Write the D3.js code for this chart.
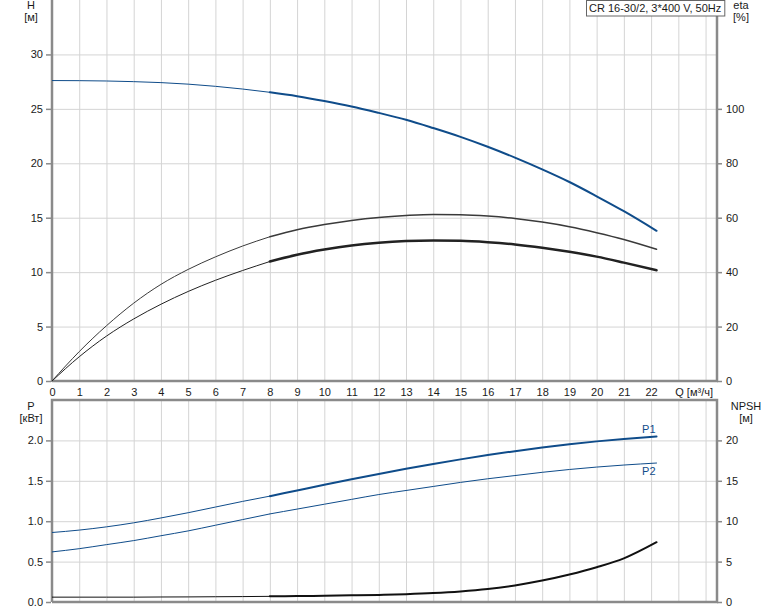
<!DOCTYPE html>
<html><head><meta charset="utf-8">
<script src="https://cdn.jsdelivr.net/npm/d3@7"></script>
<style>
body{margin:0;background:#fff;}
svg{display:block;font-family:"Liberation Sans",Arial,sans-serif;}
</style></head>
<body><svg id="c" width="774" height="611"></svg>
<script>
// ---- data ----
const qPoints = [0,1,2,3,4,5,6,7,8,9,10,11,12,13,14,15,16,17,18,19,20,21,22.2];
const headH   = [27.6,27.59,27.56,27.5,27.41,27.27,27.07,26.82,26.52,26.16,25.72,25.22,24.63,24.0,23.24,22.43,21.52,20.52,19.44,18.28,16.97,15.6,13.8];
const etaPump = [0,10.8,20.3,28.6,35.5,41.0,45.6,49.6,53.0,55.6,57.5,59.0,60.1,60.8,61.2,61.1,60.6,59.7,58.4,56.7,54.5,52.0,48.4];
const etaTotal= [0,8.9,16.5,22.8,28.2,32.9,37.0,40.6,43.9,46.4,48.3,49.8,50.8,51.4,51.6,51.5,51.0,50.2,49.0,47.5,45.7,43.5,40.7];
const powerP1 = [0.86,0.89,0.93,0.98,1.04,1.105,1.175,1.245,1.31,1.38,1.45,1.518,1.584,1.648,1.708,1.765,1.818,1.867,1.912,1.952,1.988,2.018,2.048];
const powerP2 = [0.62,0.66,0.71,0.76,0.82,0.88,0.95,1.02,1.09,1.15,1.21,1.27,1.33,1.38,1.43,1.48,1.525,1.565,1.605,1.64,1.67,1.695,1.72];
const npsh    = [0.6,0.6,0.6,0.6,0.62,0.63,0.65,0.67,0.7,0.73,0.77,0.82,0.88,0.97,1.1,1.3,1.6,2.05,2.65,3.4,4.3,5.4,7.4];
const opStartQ = 8;
const qTicks = [0,1,2,3,4,5,6,7,8,9,10,11,12,13,14,15,16,17,18,19,20,21,22];
const qGrid = [1,2,3,4,5,6,7,8,9,10,11,12,13,14,15,16,17,18,19,20,21,22,23,24];
const hTicks = [0,5,10,15,20,25,30];
const etaTicks = [0,20,40,60,80,100];
const pTicks = [0,0.5,1.0,1.5,2.0];
const npshTicks = [0,5,10,15,20];
const titleText = "CR 16-30/2, 3*400 V, 50Hz";

// ---- layout ----
const L = 52, R = 717;
const topT = 0, topB = 381, botT = 400, botB = 602;
const svg = d3.select("#c");
const x = d3.scaleLinear().domain([0,24.42]).range([L,R]);
const yH = d3.scaleLinear().domain([0,35]).range([topB,topT]);
const yEta = d3.scaleLinear().domain([0,140]).range([topB,topT]);
const yP = d3.scaleLinear().domain([0,2.5]).range([botB,botT]);
const yN = d3.scaleLinear().domain([0,25]).range([botB,botT]);

const gridCol = "#d4d4d4", axisCol = "#8a8a8a", txtCol = "#1a1a1a";
const blue = "#0f4c8a";

function grid(yScale, yTicks, top, bottom){
  const g = svg.append("g");
  g.append("g").attr("transform",`translate(0,${bottom})`)
    .call(d3.axisBottom(x).tickValues(qGrid).tickSize(-(bottom-top)).tickFormat(""))
    .call(s=>{s.select(".domain").remove(); s.selectAll("line").attr("stroke",gridCol);});
  g.append("g").attr("transform",`translate(${L},0)`)
    .call(d3.axisLeft(yScale).tickValues(yTicks).tickSize(-(R-L)).tickFormat(""))
    .call(s=>{s.select(".domain").remove(); s.selectAll("line").attr("stroke",gridCol);});
}
grid(yH, hTicks, topT, topB);
grid(yP, pTicks, botT, botB);

function styleAxis(s){
  s.select(".domain").remove();
  s.selectAll("line").attr("stroke",axisCol).attr("stroke-width",1.5);
  s.selectAll("text").attr("fill",txtCol).style("font-size","11px").style("font-family","'Liberation Sans',Arial,sans-serif");
}
svg.append("g").attr("transform",`translate(${L-1},0)`)
  .call(d3.axisLeft(yH).tickValues(hTicks).tickSize(5).tickPadding(3).tickFormat(d3.format("d"))).call(styleAxis);
svg.append("g").attr("transform",`translate(${R},0)`)
  .call(d3.axisRight(yEta).tickValues(etaTicks).tickSize(5).tickPadding(4).tickFormat(d3.format("d"))).call(styleAxis);
svg.append("g").attr("transform",`translate(${L-1},0)`)
  .call(d3.axisLeft(yP).tickValues(pTicks).tickSize(5).tickPadding(3).tickFormat(d3.format(".1f"))).call(styleAxis);
svg.append("g").attr("transform",`translate(${R},0)`)
  .call(d3.axisRight(yN).tickValues(npshTicks).tickSize(5).tickPadding(4).tickFormat(d3.format("d"))).call(styleAxis);
svg.append("g").attr("transform",`translate(0,${topB})`)
  .call(d3.axisBottom(x).tickValues(qTicks).tickSize(0).tickPadding(7).tickFormat(d3.format("d"))).call(styleAxis);

// frame lines
const frame = svg.append("g").attr("stroke",axisCol).attr("stroke-width",2.5).attr("fill","none");
frame.append("line").attr("x1",L).attr("x2",L).attr("y1",topT).attr("y2",topB+1);
frame.append("line").attr("x1",L).attr("x2",R+1).attr("y1",topB).attr("y2",topB);
frame.append("line").attr("x1",R).attr("x2",R).attr("y1",topT).attr("y2",topB+1);
frame.append("path").attr("d",`M${L},${botB}V${botT}H${R}V${botB}H${L}`);

// curves
function drawCurve(yScale, vals, color, thinW, thickW){
  const pts = qPoints.map((q,i)=>[q,vals[i]]);
  const line = d3.line().x(d=>x(d[0])).y(d=>yScale(d[1])).curve(d3.curveMonotoneX);
  svg.append("path").attr("d",line(pts.filter(d=>d[0]<=opStartQ))).attr("fill","none")
    .attr("stroke",color).attr("stroke-width",thinW);
  svg.append("path").attr("d",line(pts.filter(d=>d[0]>=opStartQ))).attr("fill","none")
    .attr("stroke",color).attr("stroke-width",thickW).attr("stroke-linecap","round");
}
drawCurve(yH, headH, blue, 1, 2);
drawCurve(yEta, etaPump, "#3a3a3a", 1, 1.5);
drawCurve(yEta, etaTotal, "#222", 1, 2.5);
drawCurve(yP, powerP1, blue, 1, 2);
drawCurve(yP, powerP2, blue, 1, 1);
drawCurve(yN, npsh, "#111", 1, 2);

// curve labels
const lastQ = qPoints[qPoints.length-1];
svg.append("text").attr("x",x(lastQ)-1).attr("y",yP(powerP1[powerP1.length-1])-4)
  .attr("text-anchor","end").attr("fill",blue).style("font-size","11px").text("P1");
svg.append("text").attr("x",x(lastQ)-1).attr("y",yP(powerP2[powerP2.length-1])+12)
  .attr("text-anchor","end").attr("fill",blue).style("font-size","11px").text("P2");

// axis titles
function label(xp, yp, t, anchor){
  svg.append("text").attr("x",xp).attr("y",yp).attr("text-anchor",anchor||"middle")
    .attr("fill",txtCol).style("font-size","11px").text(t);
}
label(31,9,"H"); label(31,21,"[м]");
label(741,9,"eta"); label(741,21,"[%]");
label(31,410,"P"); label(31,422,"[кВт]");
label(746,410,"NPSH"); label(746,422,"[м]");
label(713,396,"Q [м³/ч]","end");

// title box
const tb = svg.append("g");
const tt = tb.append("text").attr("x",589).attr("y",12).attr("fill",txtCol).style("font-size","11px").text(titleText);
const bw = tt.node().getComputedTextLength();
tb.insert("rect","text").attr("x",586.5).attr("y",0.5).attr("width",Math.max(bw+6,130)).attr("height",15.5)
  .attr("fill","#fff").attr("stroke","#666").attr("stroke-width",1);
</script></body></html>
